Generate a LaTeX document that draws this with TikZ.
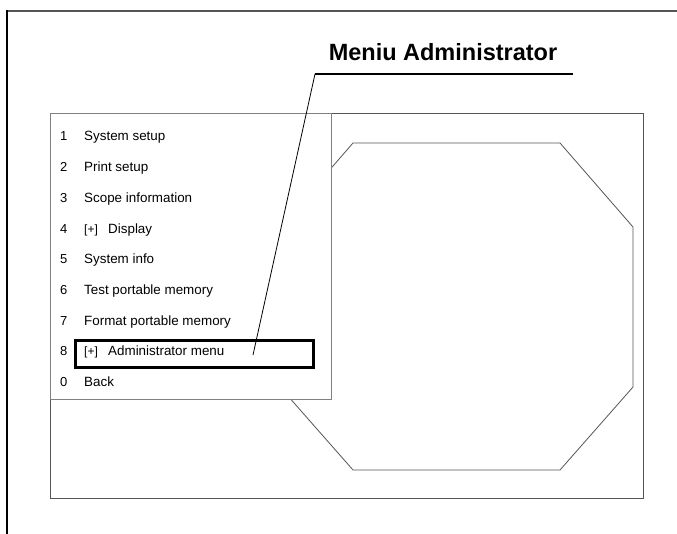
\documentclass[tikz,border=0pt]{standalone}
\usepackage{fontspec}
\setmainfont{Liberation Sans}
\definecolor{linegray}{HTML}{555555}
\definecolor{menugray}{HTML}{808080}
\begin{document}
\begin{tikzpicture}[x=1pt,y=-1pt,
  itemnum/.style={anchor=base west,inner sep=0pt,font=\fontsize{13}{15}\selectfont},
  itemtext/.style={anchor=base west,inner sep=0pt,font=\fontsize{13.4}{15}\selectfont},
  thin gray/.style={draw=linegray,line width=0.8pt},
]
\useasboundingbox (0,0) rectangle (677,534);
% page frame
\draw[line width=1.6pt,linegray] (6.2,11) -- (677,11);
\draw[line width=2pt,black] (7,10.2) -- (7,534);
% screen rectangle
\draw[thin gray] (50,113) rectangle (643,498);
% octagon
\draw[thin gray] (353,143) -- (560,143) -- (633,227) -- (633,387) -- (560,470)
  -- (353,470) -- (280,387) -- (280,227) -- cycle;
% menu panel
\draw[draw=menugray,line width=0.9pt,fill=white] (50,113) rectangle (331,399);
% menu items
\foreach \n/\t/\y [count=\i] in {1/System setup/136, 2/Print setup/167, 3/Scope information/198,
   4/{\makebox[24pt][l]{\fontsize{12}{14}\selectfont[+]}Display}/229, 5/System info/259, 6/Test portable memory/290,
   7/Format portable memory/321, 8/{\makebox[24pt][l]{\fontsize{12}{14}\selectfont[+]}Administrator menu}/351, 0/Back/382}{
  \node[itemnum] (num\i) at (60,\y+4.7) {\n};
  \node[itemtext] (item\i) at (84,\y+4.7) {\t};
}
% highlight box
\node[draw=black,line width=2.6pt,inner sep=0pt,minimum width=238pt,minimum height=27pt,anchor=north west] (hl) at (74,339) {};
% title and leader
\node[anchor=base,inner sep=0pt,font=\fontsize{23.5}{26}\selectfont\bfseries] (title) at (443,61) {Meniu Administrator};
\coordinate (knee) at (315,74);
\coordinate (lineend) at (573,74);
\coordinate (tip) at (253,355);
\draw[line width=2pt] (lineend) -- (knee);
\draw[line width=0.8pt] (knee) -- (tip);
\end{tikzpicture}
\end{document}
